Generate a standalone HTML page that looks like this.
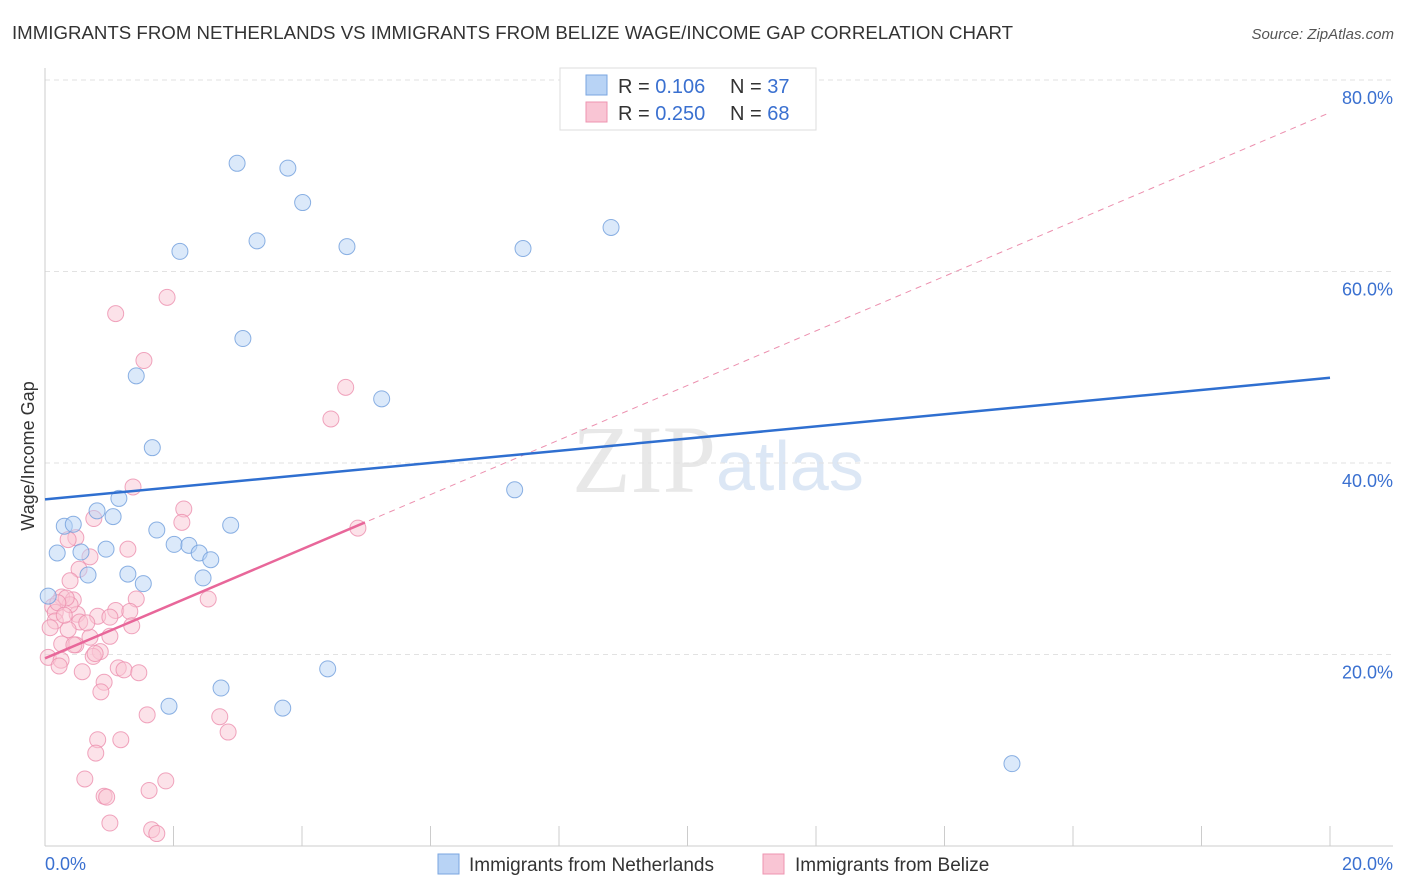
<!DOCTYPE html>
<html><head><meta charset="utf-8"><style>
body{margin:0;background:#fff;font-family:"Liberation Sans",sans-serif}
svg{display:block}
</style></head><body>
<svg id="chart" width="1406" height="892">
<text x="12" y="39" font-size="18" fill="#333" textLength="1001" lengthAdjust="spacingAndGlyphs">IMMIGRANTS FROM NETHERLANDS VS IMMIGRANTS FROM BELIZE WAGE/INCOME GAP CORRELATION CHART</text>
<text x="1394" y="39" font-size="15" font-style="italic" fill="#555" text-anchor="end">Source: ZipAtlas.com</text>
<text x="716" y="492" font-size="96" font-family="Liberation Serif,serif" fill="#e8e8e8" text-anchor="end">ZIP</text>
<text x="716" y="490" font-size="70" fill="#dce7f5">atlas</text>
<g id="grid"></g><g id="axes"></g><g id="marks"></g>
<text transform="translate(34,456) rotate(-90)" font-size="18" fill="#333" text-anchor="middle">Wage/Income Gap</text>
<g>
<rect x="560" y="68" width="256" height="62" fill="#fff" stroke="#ddd"/>
<rect x="586" y="75" width="21" height="20" fill="#b8d3f5" stroke="#7aa6e0"/>
<rect x="586" y="102" width="21" height="20" fill="#f9c5d4" stroke="#ee94b0"/>
<text x="618" y="93" font-size="20" fill="#333">R = <tspan fill="#3a70d0"> 0.106</tspan><tspan x="730">N = </tspan><tspan fill="#3a70d0">37</tspan></text>
<text x="618" y="120" font-size="20" fill="#333">R = <tspan fill="#3a70d0">0.250</tspan><tspan x="730">N = </tspan><tspan fill="#3a70d0">68</tspan></text>
</g>
<g>
<rect x="438" y="854" width="21" height="20" fill="#b8d3f5" stroke="#7aa6e0"/>
<text x="469" y="871" font-size="19" fill="#333">Immigrants from Netherlands</text>
<rect x="763" y="854" width="21" height="20" fill="#f9c5d4" stroke="#ee94b0"/>
<text x="795" y="871" font-size="19" fill="#333">Immigrants from Belize</text>
</g>
</svg>
<script>
const blueX=[2.99,3.78,4.01,2.10,3.30,4.70,7.44,8.81,3.08,1.42,5.24,1.67,7.31,1.15,0.81,1.06,0.30,0.44,1.74,2.89,0.19,0.56,0.95,2.01,2.24,2.40,2.58,0.67,1.29,1.53,2.46,0.05,2.74,1.93,3.70,4.40,15.05];
const blueY=[71.3,70.8,67.2,62.1,63.2,62.6,62.4,64.6,53.0,49.1,46.7,41.6,37.2,36.3,35.0,34.4,33.4,33.6,33.0,33.5,30.6,30.7,31.0,31.5,31.4,30.6,29.9,28.3,28.4,27.4,28.0,26.1,16.5,14.6,14.4,18.5,8.6];
const pinkX=[1.90,1.10,1.54,4.68,4.45,1.37,2.16,0.76,2.13,0.48,1.29,4.87,0.70,0.53,0.39,0.26,0.44,0.12,0.16,1.42,1.10,1.32,0.82,0.50,0.16,0.54,1.35,0.36,1.01,0.70,0.26,0.48,0.86,0.05,0.25,0.75,1.14,1.23,1.46,0.58,0.22,0.92,0.87,2.54,1.59,2.72,2.85,0.82,1.18,0.79,0.62,1.88,0.92,0.96,1.62,1.01,1.66,1.74,0.39,0.65,0.08,0.33,0.20,0.45,0.30,0.36,1.01,0.78];
const pinkY=[57.3,55.6,50.7,47.9,44.6,37.5,35.2,34.2,33.8,32.2,31.0,33.2,30.2,28.9,27.7,26.0,25.7,25.0,24.4,25.8,24.6,24.5,24.0,24.2,23.5,23.4,23.0,22.6,21.9,21.8,21.1,21.0,20.3,19.7,19.4,19.8,18.6,18.4,18.1,18.2,18.8,17.1,16.1,25.8,13.7,13.5,11.9,11.1,11.1,9.7,7.0,6.8,5.2,5.1,5.8,2.4,1.7,1.3,25.2,23.3,22.8,25.9,25.4,21.0,24.1,32.0,23.9,20.1];
const yTicks=[20,40,60,80];
const yTickLabels=["20.0%","40.0%","60.0%","80.0%"];
const xTickLabels=["0.0%","20.0%"];
const blueTrend=[36.2,48.9];
const pinkTrend=[19.6,76.6];
const pinkSolidEnd=4.98;

const NS="http://www.w3.org/2000/svg";
const X=v=>45+v/20*1285;
const Y=v=>846-v/20*191.5;
function mk(tag,attrs,parent){const e=document.createElementNS(NS,tag);for(const k in attrs)e.setAttribute(k,attrs[k]);parent.appendChild(e);return e;}
const grid=document.getElementById('grid'),axes=document.getElementById('axes'),marks=document.getElementById('marks');
yTicks.forEach((t,i)=>{
  const l=mk('line',{x1:45,x2:1393,y1:Y(t),y2:Y(t),stroke:'#e2e2e2','stroke-dasharray':'5,4'},grid);
  
  
  const tx=mk('text',{x:1393,y:Y(t)+24,'font-size':18,fill:'#3a70d0','text-anchor':'end'},axes);
  tx.textContent=yTickLabels[i];
  
  
});
let ax=mk('line',{x1:45,x2:45,y1:68,y2:846,stroke:'#ccc'},axes);


ax=mk('line',{x1:45,x2:1393,y1:846,y2:846,stroke:'#ccc'},axes);


for(let i=0;i<=10;i++){
  const t=mk('line',{x1:X(i*2),x2:X(i*2),y1:826,y2:846,stroke:'#ccc'},axes);
  
  
}
[[0,'start',45],[1,'end',1393]].forEach(([i,a,x])=>{
  const tx=mk('text',{x:x,y:870,'font-size':18,fill:'#3a70d0','text-anchor':a},axes);
  tx.textContent=xTickLabels[i];
  
  
});
function pts(xs,ys,fill,stroke,name){
  xs.forEach((x,i)=>{
    const c=mk('circle',{cx:X(x),cy:Y(ys[i]),r:8,fill:fill,'fill-opacity':0.5,stroke:stroke,'stroke-opacity':0.8,'stroke-width':1},marks);
    
    
  });
}
pts(pinkX,pinkY,'#f9c5d4','#ec8fae','belize-point');
pts(blueX,blueY,'#b8d3f5','#6f9ddc','netherlands-point');
let l=mk('line',{x1:X(0),y1:Y(pinkTrend[0]),x2:X(20),y2:Y(pinkTrend[1]),stroke:'#ec8fae','stroke-dasharray':'6,5','stroke-width':1},marks);


const py=pinkTrend[0]+(pinkTrend[1]-pinkTrend[0])*pinkSolidEnd/20;
l=mk('line',{x1:X(0),y1:Y(pinkTrend[0]),x2:X(pinkSolidEnd),y2:Y(py),stroke:'#e8679a','stroke-width':2.5},marks);


l=mk('line',{x1:X(0),y1:Y(blueTrend[0]),x2:X(20),y2:Y(blueTrend[1]),stroke:'#2f6fd0','stroke-width':2.5},marks);


</script>
</body></html>
